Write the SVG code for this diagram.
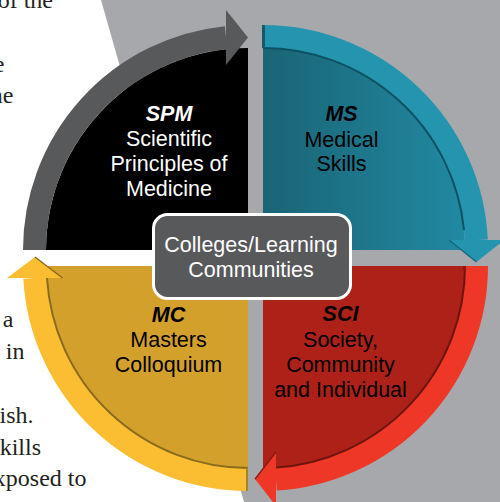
<svg xmlns="http://www.w3.org/2000/svg" width="500" height="502" viewBox="0 0 500 502">
  <defs>
    <linearGradient id="tealFill" x1="263" y1="0" x2="465" y2="0" gradientUnits="userSpaceOnUse">
      <stop offset="0" stop-color="#1a6475"/>
      <stop offset="1" stop-color="#2189a2"/>
    </linearGradient>
    <style>
      .page { font-family: "Liberation Serif", "DejaVu Serif", serif; font-size: 24px; fill: #231f20; text-anchor: end; }
      .lbl { font-family: "Liberation Sans", Arial, sans-serif; font-size: 21.5px; text-anchor: middle; }
      .abbr { font-weight: bold; font-style: italic; }
      .band { fill: none; stroke-width: 23; stroke-linecap: butt; }
      .edge { fill: none; stroke-width: 2; }
    </style>
  </defs>

  <!-- background -->
  <rect x="0" y="0" width="500" height="502" fill="#ffffff"/>
  <polygon points="101,0 500,0 500,502 244,502" fill="#a7a8ab"/>

  <!-- page text fragments -->
  <g id="page-text">
    <text class="page" x="53" y="8">of the</text>
    <text class="page" x="4.5" y="71.5">e</text>
    <text class="page" x="13.5" y="103">ne</text>
    <text class="page" x="13.5" y="327">a</text>
    <text class="page" x="24.5" y="358.5">in</text>
    <text class="page" x="33.5" y="422.5">ish.</text>
    <text class="page" x="41" y="454.5">kills</text>
    <text class="page" x="86.5" y="486">xposed to</text>
  </g>

  <!-- SPM quadrant -->
  <g id="spm">
    <path d="M248 250 L46 250 A202 202 0 0 1 248 48 Z" fill="#000000"/>
    <path class="band" d="M34.5 250 A213.5 213.5 0 0 1 226 37.6" stroke="#58595b"/>
    <polygon points="226,10 248,37.6 226,65" fill="#58595b"/>
    <text class="lbl abbr" x="169" y="121" fill="#ffffff">SPM</text>
    <text class="lbl" x="169" y="146" fill="#ffffff">Scientific</text>
    <text class="lbl" x="169" y="171" fill="#ffffff">Principles of</text>
    <text class="lbl" x="169" y="195.5" fill="#ffffff">Medicine</text>
  </g>

  <!-- MS quadrant -->
  <g id="ms">
    <path d="M263 250 L263 48 A202 202 0 0 1 465 250 Z" fill="url(#tealFill)"/>
    <path class="band" d="M263 36.5 A213.5 213.5 0 0 1 476.3 240" stroke="#2594af"/>
    <path class="edge" d="M263 48 A202 202 0 0 1 464 230" stroke="#0e5162"/>
    <rect x="262" y="25" width="3" height="23" fill="#15596a"/>
    <polygon points="449,240 476.5,262 504,240" fill="#2594af"/>
    <line x1="449" y1="240" x2="476.5" y2="262" stroke="#17687b" stroke-width="1.5"/>
    <text class="lbl abbr" x="341.5" y="121" fill="#000000">MS</text>
    <text class="lbl" x="341.5" y="146.5" fill="#000000">Medical</text>
    <text class="lbl" x="341.5" y="171" fill="#000000">Skills</text>
  </g>

  <!-- SCI quadrant -->
  <g id="sci">
    <path d="M263 266 L465 266 A202 202 0 0 1 263 468 Z" fill="#ae2118"/>
    <path class="band" d="M476.5 266 A213.5 213.5 0 0 1 276 479.1" stroke="#ee3727"/>
    <path class="edge" d="M465 266 A202 202 0 0 1 276 467.6" stroke="#6e140e"/>
    <rect x="463" y="266" width="3" height="4" fill="#8a1a12"/>
    <polygon points="276,452 255,479.1 276,506" fill="#ee3727"/>
    <line x1="276" y1="452" x2="255" y2="479.1" stroke="#8a1a12" stroke-width="1.5"/>
    <text class="lbl abbr" x="340.5" y="321" fill="#000000">SCI</text>
    <text class="lbl" x="340.5" y="346.5" fill="#000000">Society,</text>
    <text class="lbl" x="340.5" y="371.5" fill="#000000">Community</text>
    <text class="lbl" x="340.5" y="396.5" fill="#000000">and Individual</text>
  </g>

  <!-- MC quadrant -->
  <g id="mc">
    <path d="M248 266 L248 468 A202 202 0 0 1 46 266 Z" fill="#d4a02c"/>
    <path class="band" d="M248 479.5 A213.5 213.5 0 0 1 34.8 278" stroke="#fbbd32"/>
    <path class="edge" d="M248 468 A202 202 0 0 1 47 278" stroke="#8a6b1d"/>
    <rect x="246" y="468" width="2" height="23" fill="#a88322"/>
    <polygon points="7,278 35,257 62.5,278" fill="#fbbd32"/>
    <line x1="35" y1="257" x2="62.5" y2="278" stroke="#8a6b1d" stroke-width="1.5"/>
    <text class="lbl abbr" x="168.5" y="322" fill="#000000">MC</text>
    <text class="lbl" x="168.5" y="347" fill="#000000">Masters</text>
    <text class="lbl" x="168.5" y="372" fill="#000000">Colloquium</text>
  </g>

  <!-- center box -->
  <g id="colleges">
    <rect x="153.5" y="214.5" width="197" height="84" rx="14" ry="14" fill="#58595b" stroke="#ffffff" stroke-width="3"/>
    <text class="lbl" x="251" y="252" fill="#ffffff">Colleges/Learning</text>
    <text class="lbl" x="251" y="277" fill="#ffffff">Communities</text>
  </g>
</svg>
